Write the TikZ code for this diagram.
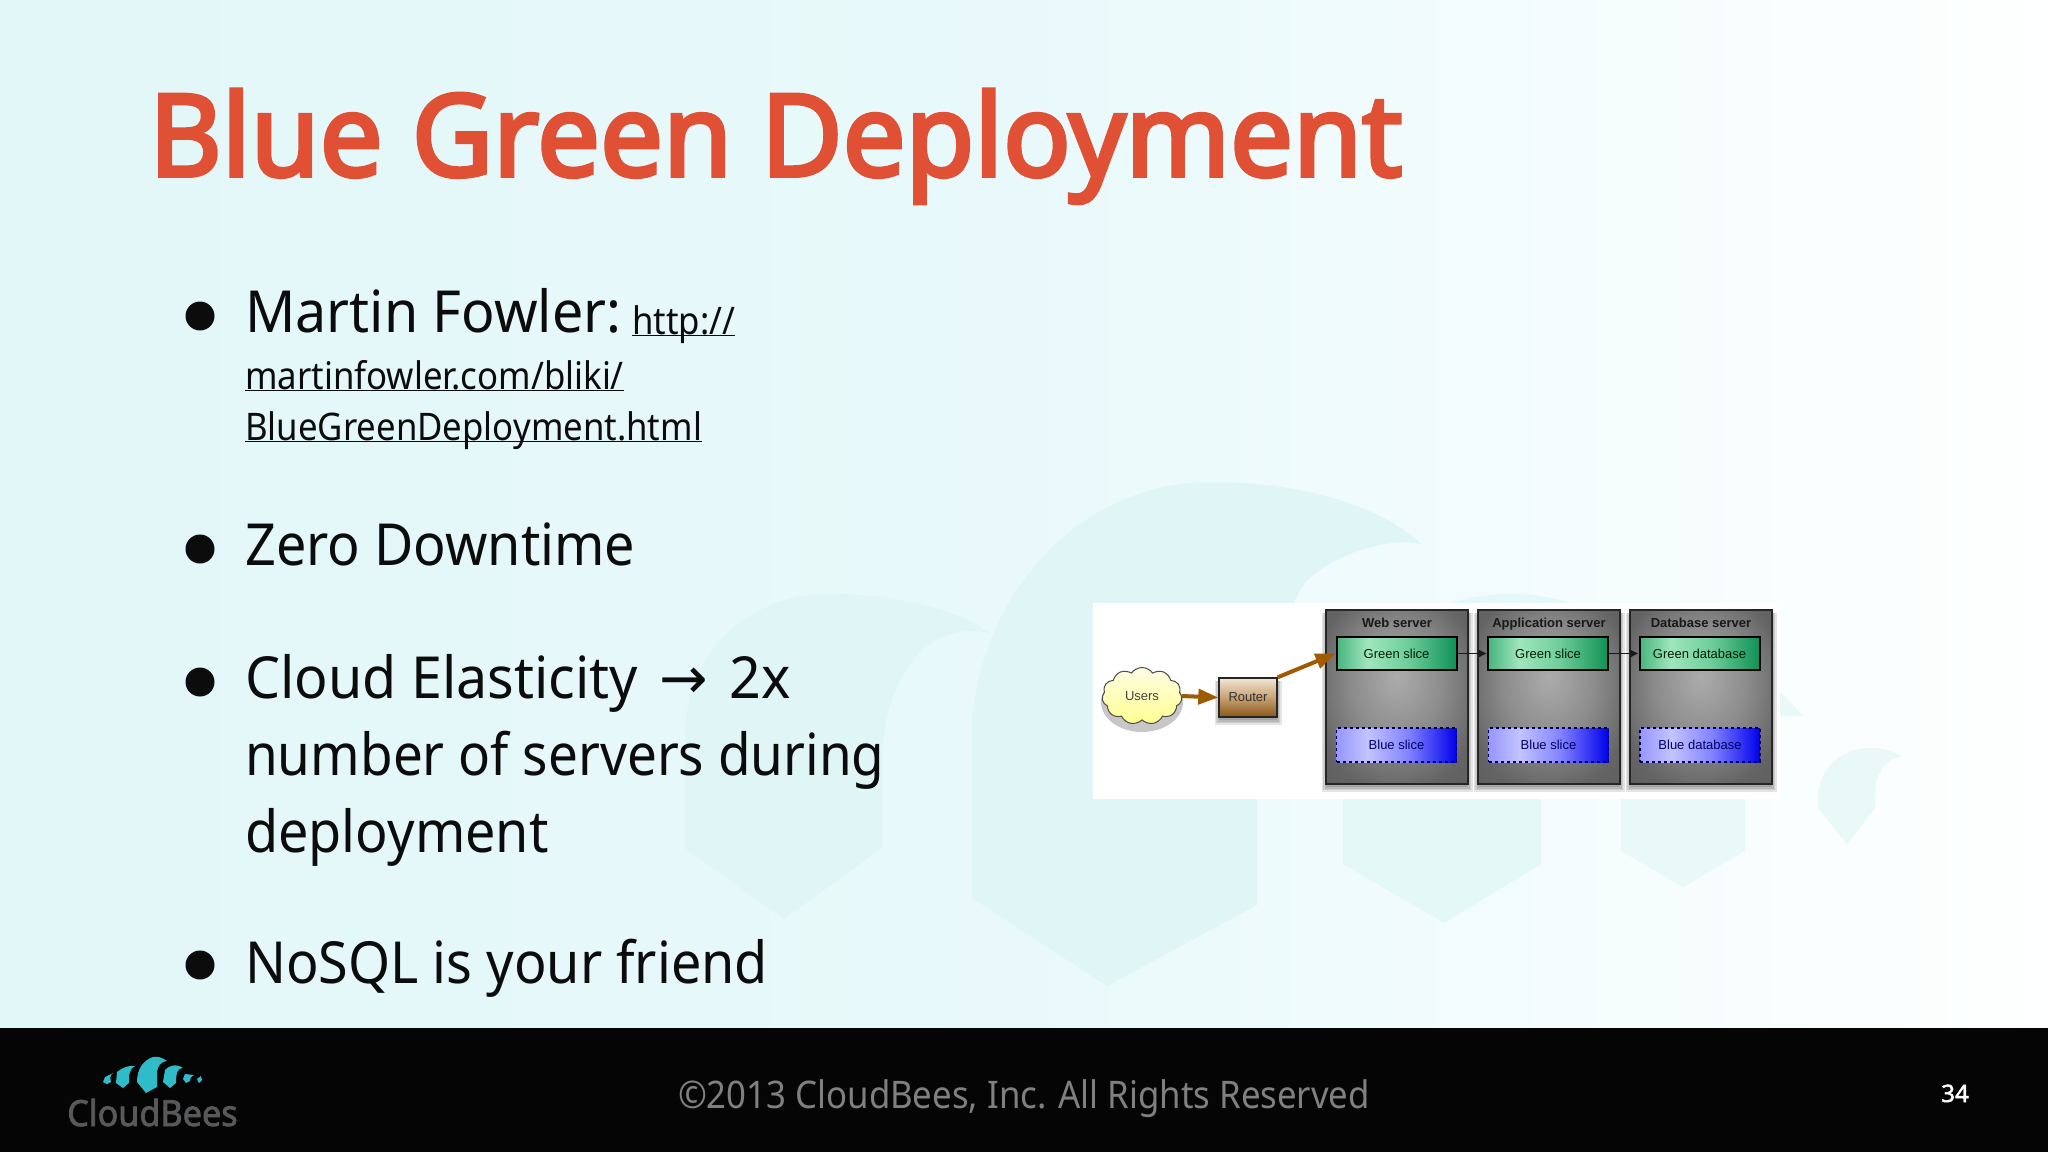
\documentclass[tikz,border=0pt]{standalone}
\usepackage{fontspec}
\setmainfont[FakeStretch=0.915]{Noto Sans}
\newfontfamily\midfont[FakeStretch=0.93]{Noto Sans}
\newfontfamily\widefont[FakeStretch=0.958]{Noto Sans}
\newfontfamily\titlefont[FakeStretch=0.98,FakeBold=3.4]{Noto Sans}
\newfontfamily\logofont[FakeStretch=0.95,FakeBold=2]{Noto Sans}
\newfontfamily\pagefont[FakeBold=2]{Noto Sans}
\newfontfamily\diagfont{Liberation Sans}
\newfontfamily\arrowfont{DejaVu Sans}
\usetikzlibrary{arrows.meta,shapes.symbols}
\definecolor{accent}{HTML}{DF5034}
\definecolor{ink}{HTML}{0C0C0C}
\definecolor{brown1}{HTML}{A05A00}
\definecolor{logoteal}{HTML}{2FBCC8}
\definecolor{logogrey}{HTML}{58595B}
\definecolor{wma}{HTML}{E0F6F6}
\definecolor{wmb}{HTML}{E4F8F7}
\definecolor{wmc}{HTML}{E8F9F8}
\definecolor{wmd}{HTML}{E9F9F8}
\definecolor{bga}{RGB}{226,247,248}
\definecolor{bgb}{RGB}{233,249,251}
\definecolor{bgc}{RGB}{250,254,254}
\definecolor{bgd}{RGB}{254,255,255}
\definecolor{gra}{RGB}{70,180,125}
\definecolor{grb}{RGB}{160,230,190}
\definecolor{grc}{RGB}{110,205,155}
\definecolor{grd}{RGB}{15,145,85}
\definecolor{bla}{RGB}{150,150,255}
\definecolor{blb}{RGB}{195,195,255}
\definecolor{blc}{RGB}{130,130,255}
\definecolor{bld}{RGB}{0,0,235}
\definecolor{gya}{RGB}{172,172,172}
\definecolor{gyb}{RGB}{140,140,140}
\definecolor{gyc}{RGB}{100,100,100}
\definecolor{gyd}{RGB}{85,85,85}
\definecolor{cloudtop}{HTML}{FFFDE4}
\definecolor{cloudbot}{HTML}{FFFF90}
\definecolor{rtop}{HTML}{F2E6D6}
\definecolor{rmid}{HTML}{C8A274}
\definecolor{rbot}{HTML}{8A5618}
\pgfdeclarehorizontalshading{slidebg}{100bp}{color(0bp)=(bga);color(25bp)=(bga);color(50bp)=(bgb);color(70bp)=(bgc);color(75bp)=(bgd);color(100bp)=(bgd)}
\pgfdeclarehorizontalshading{greenfill}{100bp}{color(0bp)=(gra);color(25bp)=(gra);color(38bp)=(grb);color(55bp)=(grc);color(75bp)=(grd);color(100bp)=(grd)}
\pgfdeclarehorizontalshading{bluefill}{100bp}{color(0bp)=(bla);color(25bp)=(bla);color(38bp)=(blb);color(55bp)=(blc);color(75bp)=(bld);color(100bp)=(bld)}
\pgfdeclareradialshading{greyfill}{\pgfpoint{0bp}{6bp}}{color(0bp)=(gya);color(16bp)=(gyb);color(30bp)=(gyc);color(50bp)=(gyd)}
\tikzset{
  body/.style={anchor=base west,inner sep=0pt,text=ink,font=\fontsize{58}{58}\selectfont},
  bodymid/.style={body,font=\midfont\fontsize{58}{58}\selectfont},
  bodywide/.style={body,font=\widefont\fontsize{58}{58}\selectfont},
  linktext/.style={anchor=base west,inner sep=0pt,text=ink,font=\fontsize{38}{38}\selectfont},
  dot/.style={circle,fill=ink,minimum size=29pt,inner sep=0pt},
  server/.style={draw=black!85,line width=1.4pt,minimum width=142pt,minimum height=174pt,inner sep=0pt,shading=greyfill},
  greenslice/.style={draw=black,line width=2pt,minimum width=120pt,minimum height=33pt,inner sep=0pt,text height=9.4pt,text depth=0pt,shading=greenfill,text=black!75!green!50!black,font=\diagfont\fontsize{13}{13}\selectfont},
  blueslice/.style={draw=blue!30!black,dashed,line width=1.3pt,minimum width=120pt,minimum height=34pt,inner sep=0pt,text height=9pt,text depth=0pt,shading=bluefill,text=blue!40!black,font=\diagfont\fontsize{13}{13}\selectfont},
  servertitle/.style={anchor=base,inner sep=0pt,text=black!90,font=\diagfont\bfseries\fontsize{13}{13}\selectfont},
  heavyarrow/.style={draw=brown1,line width=4pt,-{Triangle[length=20pt,width=15pt]}},
  thinarrow/.style={draw=black!90,line width=1.2pt,-{Latex[length=8pt,width=8pt]}},
  softshadow/.style={fill=black,fill opacity=0.10,draw=none}
}
\newcommand{\softbox}[4]{%
  \foreach \d in {0,1.5,3,4.5}{\fill[softshadow] (#1-\d,#2+3) rectangle (#3+\d,#4+3+\d);}}
\newcommand{\lnk}[1]{\underline{\smash{#1}}}
\begin{document}
\begin{tikzpicture}[x=1pt,y=-1pt]
\useasboundingbox (0,0) rectangle (2048,1152);
\fill[shading=slidebg] (0,0) rectangle (2048,1030);
% watermark
\fill[fill=wma] (685,848) -- (685,730) .. controls (690,640) and (760,590) .. (840,594) .. controls (900,596) and (960,610) .. (990,633) .. controls (930,620) and (885,670) .. (882,760) -- (882,848) -- (784,919) -- cycle;
\fill[fill=wma] (972,898) -- (972,720) .. controls (985,580) and (1090,482) .. (1210,482) .. controls (1300,482) and (1380,505) .. (1421,544) .. controls (1376,535) and (1313,566) .. (1300,590) .. controls (1275,640) and (1257,700) .. (1257,770) -- (1257,905) -- (1107,986) -- cycle;
\fill[fill=wmb] (1343,864) -- (1343,700) .. controls (1370,630) and (1440,594) .. (1511,594) .. controls (1560,594) and (1600,610) .. (1630,640) -- (1541,700) -- (1541,864) -- (1444,923) -- cycle;
\fill[fill=wmc] (1621,851) -- (1621,700) -- (1700,640) .. controls (1740,650) and (1780,690) .. (1803,716) -- (1745,716) -- (1745,851) -- (1683,887) -- cycle;
\fill[fill=wmd] (1818,808) -- (1818,795) .. controls (1820,765) and (1845,748) .. (1870,748) .. controls (1885,748) and (1895,752) .. (1902,757) .. controls (1885,757) and (1875,775) .. (1875,795) -- (1875,808) -- (1847,844) -- cycle;
% title
\node[anchor=base west,inner sep=0pt,text=accent,font=\titlefont\fontsize{114}{114}\selectfont] (title) at (149,176) {Blue Green Deployment};
% bullets
\node[dot] (b1) at (200,316) {};
\node[bodywide] (t1) at (245,332.5) {Martin Fowler:};
\node[linktext] (l1) at (632,334) {\lnk{http://}};
\node[linktext] (l2) at (245,389) {\lnk{martinfowler.com/bliki/}};
\node[linktext] (l3) at (245,440) {\lnk{BlueGreenDeployment.html}};
\node[dot] (b2) at (200,549) {};
\node[bodymid] (t2) at (245,565.5) {Zero Downtime};
\node[dot] (b3) at (200,682) {};
\node[bodywide] (t3) at (245,698) {Cloud Elasticity\hspace{7pt} {\arrowfont\fontsize{58}{58}\selectfont →}\hspace{7pt} 2x};
\node[body] (t3b) at (245,775) {number of servers during};
\node[bodymid] (t3c) at (245,852) {deployment};
\node[dot] (b4) at (200,965) {};
\node[bodymid] (t4) at (245,983.5) {NoSQL is your friend};
% embedded picture
\fill[white] (1093,603) rectangle (1780,799);
\softbox{1326}{610}{1468}{784}
\softbox{1478}{610}{1620}{784}
\softbox{1630}{610}{1772}{784}
\softbox{1219}{678}{1277}{717}
\node[server] (web) at (1397,697) {};
\node[server] (app) at (1549,697) {};
\node[server] (db) at (1701,697) {};
\node[servertitle] (webt) at (1397,627) {Web server};
\node[servertitle] (appt) at (1549,627) {Application server};
\node[servertitle] (dbt) at (1701,627) {Database server};
\node[greenslice] (g1) at (1396.5,653.5) {Green slice};
\node[greenslice] (g2) at (1548,653.5) {Green slice};
\node[greenslice] (g3) at (1699.5,653.5) {Green database};
\node[blueslice] (s1) at (1396.5,745) {Blue slice};
\node[blueslice] (s2) at (1548.5,745) {Blue slice};
\node[blueslice] (s3) at (1700,745) {Blue database};
\fill[softshadow,fill opacity=0.22] (1142,702) ellipse (41pt and 30pt);
\node[cloud,cloud puffs=11,cloud puff arc=110,aspect=1.5,draw=black!70,line width=1pt,minimum width=80pt,minimum height=57pt,inner sep=0pt,top color=cloudtop,bottom color=cloudbot,text=black!75,font=\diagfont\fontsize{13}{13}\selectfont] (users) at (1142,696) {Users};
\node[draw=black!85,line width=1.4pt,minimum width=58pt,minimum height=39pt,inner sep=0pt,top color=rtop,bottom color=rbot,middle color=rmid,text=black!80,font=\diagfont\fontsize{13}{13}\selectfont] (router) at (1248,697.5) {Router};
\draw[heavyarrow] (users.east) -- (router.west);
\draw[heavyarrow] (router.north east) -- (g1.west);
\draw[thinarrow] (g1.east) -- (g2.west);
\draw[thinarrow] (g2.east) -- (g3.west);
% footer
\fill[fill=black!98] (0,1028) rectangle (2048,1152);
\fill[logoteal] (137,1082) .. controls (137,1068) and (144,1060) .. (153,1057) .. controls (158,1056) and (163,1058) .. (167,1061) .. controls (160,1062) and (158,1066) .. (157,1072) -- (157,1087) -- (146,1093) -- cycle;
\fill[logoteal] (116,1083) -- (117,1072) .. controls (122,1068) and (128,1065) .. (135,1066) .. controls (131,1068) and (130,1072) .. (129,1076) -- (129,1083) -- (123,1088) -- cycle;
\fill[logoteal] (163,1082) -- (165,1070) .. controls (168,1066) and (176,1063) .. (183,1068) .. controls (178,1068) and (176,1072) .. (176,1083) -- (170,1088) -- cycle;
\fill[logoteal] (103,1082) -- (105,1077) -- (113,1073) .. controls (110,1075) and (110,1078) .. (111,1082) -- (107,1084) -- cycle;
\fill[logoteal] (183,1079) -- (185,1074) -- (194,1075) .. controls (191,1076) and (190,1078) .. (190,1081) -- (186,1083) -- cycle;
\fill[logoteal] (197,1079) -- (201,1076) -- (202,1080) -- (199,1083) -- cycle;
\node[anchor=base west,inner sep=0pt,text=logogrey,font=\logofont\fontsize{36}{36}\selectfont] (logo) at (67,1126) {CloudBees};
\node[anchor=base,inner sep=0pt,text=black!50,font=\fontsize{38}{38}\selectfont] (foot) at (1024,1108) {©2013 CloudBees, Inc. All Rights Reserved};
\node[anchor=base,inner sep=0pt,text=white,font=\pagefont\fontsize{24}{24}\selectfont] (page) at (1955,1102) {34};
\end{tikzpicture}
\end{document}
